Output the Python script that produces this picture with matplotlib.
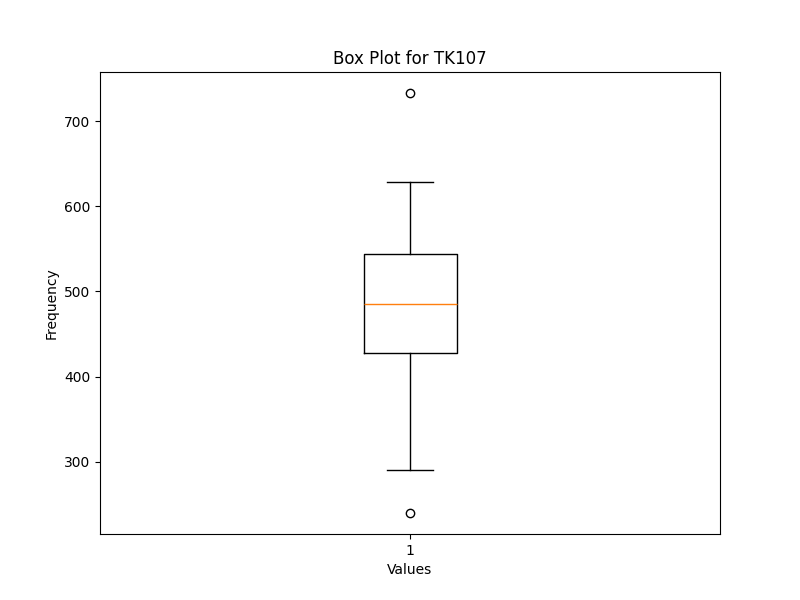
import matplotlib
matplotlib.use("Agg")
import matplotlib.pyplot as plt

# values (TK107)
tk107 = [240, 291, 428, 455, 485, 512, 543.5, 629, 733]

fig, ax = plt.subplots(figsize=(8, 6), dpi=100)
ax.boxplot(tk107)
ax.set_title("Box Plot for TK107")
ax.set_xlabel("Values")
ax.set_ylabel("Frequency")

plt.savefig("out.png")
